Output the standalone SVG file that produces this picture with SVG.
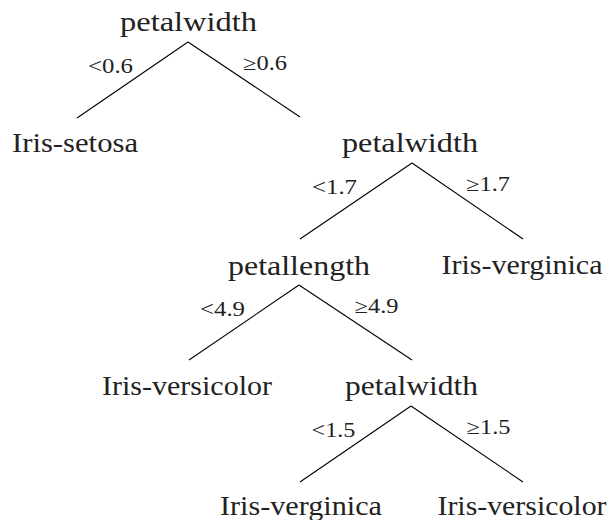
<svg xmlns="http://www.w3.org/2000/svg" width="609" height="520" viewBox="0 0 609 520">
<style>
.n{font-size:28px;fill:#222;text-anchor:middle}
.l{font-size:20px;fill:#222;text-anchor:middle}
.e{stroke:#000;stroke-width:1.1;fill:none}
</style>
<rect width="609" height="520" fill="#fff"/>
<g font-family="Liberation Serif, DejaVu Serif, serif">
<g id="connectors">
<line class="e" x1="188" y1="42" x2="77" y2="118"/>
<line class="e" x1="188" y1="42" x2="300" y2="117"/>
<line class="e" x1="412" y1="163" x2="300" y2="239"/>
<line class="e" x1="412" y1="163" x2="523" y2="239"/>
<line class="e" x1="299" y1="285" x2="189" y2="360"/>
<line class="e" x1="299" y1="285" x2="412" y2="360"/>
<line class="e" x1="411" y1="406" x2="300" y2="482"/>
<line class="e" x1="411" y1="406" x2="523" y2="482"/>
<text class="l" x="110.5" y="73" textLength="45" lengthAdjust="spacingAndGlyphs">&lt;0.6</text>
<text class="l" x="265" y="70" textLength="44" lengthAdjust="spacingAndGlyphs">≥0.6</text>
<text class="l" x="334.5" y="194" textLength="45" lengthAdjust="spacingAndGlyphs">&lt;1.7</text>
<text class="l" x="488" y="191" textLength="44" lengthAdjust="spacingAndGlyphs">≥1.7</text>
<text class="l" x="222.5" y="316" textLength="45" lengthAdjust="spacingAndGlyphs">&lt;4.9</text>
<text class="l" x="376.5" y="313" textLength="44" lengthAdjust="spacingAndGlyphs">≥4.9</text>
<text class="l" x="333.5" y="437" textLength="44" lengthAdjust="spacingAndGlyphs">&lt;1.5</text>
<text class="l" x="488.5" y="434" textLength="44" lengthAdjust="spacingAndGlyphs">≥1.5</text>
</g>
<g id="root"><text class="n" x="188.5" y="31" textLength="137" lengthAdjust="spacingAndGlyphs">petalwidth</text></g>
<g id="setosa"><text class="n" x="75" y="152" textLength="126" lengthAdjust="spacingAndGlyphs">Iris-setosa</text></g>
<g id="petalwidth2"><text class="n" x="410" y="152" textLength="136" lengthAdjust="spacingAndGlyphs">petalwidth</text></g>
<g id="petallength"><text class="n" x="299" y="275" textLength="142" lengthAdjust="spacingAndGlyphs">petallength</text></g>
<g id="verginica1"><text class="n" x="522" y="274" textLength="161" lengthAdjust="spacingAndGlyphs">Iris-verginica</text></g>
<g id="versicolor1"><text class="n" x="187" y="395" textLength="170" lengthAdjust="spacingAndGlyphs">Iris-versicolor</text></g>
<g id="petalwidth3"><text class="n" x="411.5" y="395" textLength="133" lengthAdjust="spacingAndGlyphs">petalwidth</text></g>
<g id="verginica2"><text class="n" x="301" y="515" textLength="162" lengthAdjust="spacingAndGlyphs">Iris-verginica</text></g>
<g id="versicolor2"><text class="n" x="522" y="515" textLength="169" lengthAdjust="spacingAndGlyphs">Iris-versicolor</text></g>
</g>
</svg>
